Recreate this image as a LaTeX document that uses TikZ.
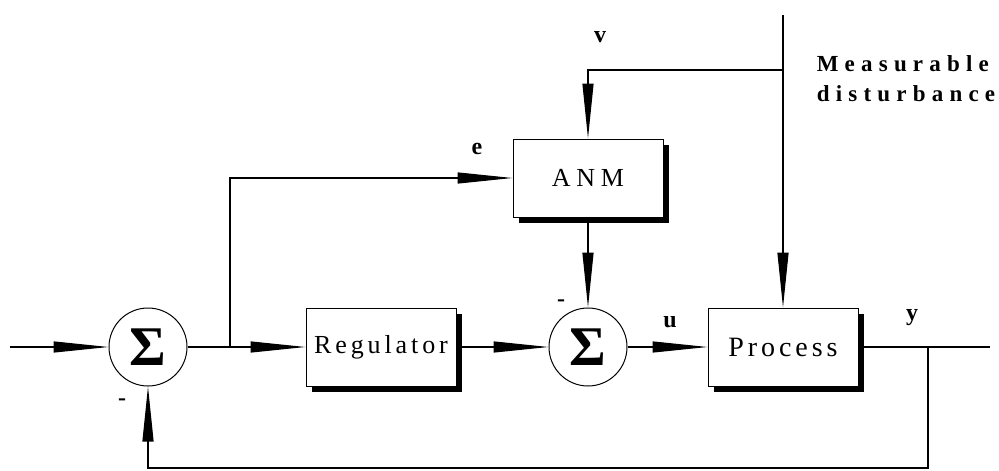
\documentclass[tikz,border=0pt]{standalone}
\usepackage{fontspec}
\setmainfont{Liberation Serif}
\usetikzlibrary{arrows.meta,positioning,shadows}
\tikzset{
      blockbox/.style={
        draw=black,
        line width=1pt,
        fill=white,
        minimum width=150pt,
        minimum height=78pt,
        inner sep=0pt,
        general shadow={fill=black, shadow xshift=6pt, shadow yshift=-6pt},
        font=\fontsize{26}{30}\selectfont
      },
      sumnode/.style={
        circle,
        draw=black,
        line width=1pt,
        fill=white,
        minimum size=78pt,
        inner sep=0pt,
        font=\fontsize{56}{56}\selectfont\bfseries
      },
      sigline/.style={line width=1.2pt},
      sigarrow/.style={sigline, -{Triangle[length=55pt,width=11pt]}},
      siglabel/.style={font=\fontsize{24}{26}\selectfont\bfseries, inner sep=0pt}
    }

\begin{document}
\begin{tikzpicture}[x=1pt,y=-1pt]
    \useasboundingbox (0,0) rectangle (999,471);
    \node[sumnode] (s1) at (148,347) {Σ};
    \node[blockbox] (reg) at (381,347) {\addfontfeatures{LetterSpace=15}Regulator};
    \node[sumnode] (s2) at (588,347) {Σ};
    \node[blockbox] (anm) at (588,178) {\addfontfeatures{LetterSpace=22}ANM};
    \node[blockbox, font=\fontsize{28}{32}\selectfont] (proc) at (783,347) {\addfontfeatures{LetterSpace=14}Process};
    \coordinate (in) at (10,347);
    \coordinate (br1) at (230,347);
    \coordinate (out) at (990,347);
    \coordinate (br2) at (928,347);
    \coordinate (fb) at (928,468);
    \coordinate (dist) at (783,15);
    \coordinate (br3) at (783,70);
    \node[siglabel] (lv) at (600,37) {v};
    \node[siglabel] (le) at (477,149) {e};
    \node[siglabel] (lu) at (670,322) {u};
    \node[siglabel] (ly) at (912,318) {y};
    \node[siglabel] (m1) at (122,402) {-};
    \node[siglabel] (m2) at (561,303) {-};
    \node[align=left, inner sep=0pt,
          font=\fontsize{23}{30}\selectfont\bfseries\addfontfeatures{LetterSpace=27}]
          (dlabel) at (906,79) {Measurable\\disturbance};
    % main path
    \draw[sigarrow] (in) -- (s1);
    \draw[sigarrow] (s1) -- (reg);
    \draw[sigarrow] (reg) -- (s2);
    \draw[sigarrow] (s2) -- (proc);
    \draw[sigline] (proc) -- (out);
    % model branch
    \draw[sigarrow] (br1) |- (anm);
    \draw[sigarrow] (anm) -- (s2);
    % disturbance
    \draw[sigarrow] (dist) -- (proc);
    \draw[sigarrow] (br3) -| (anm.north);
    % feedback
    \draw[sigarrow] (br2) -- (fb) -| (s1);
\end{tikzpicture}
\end{document}
